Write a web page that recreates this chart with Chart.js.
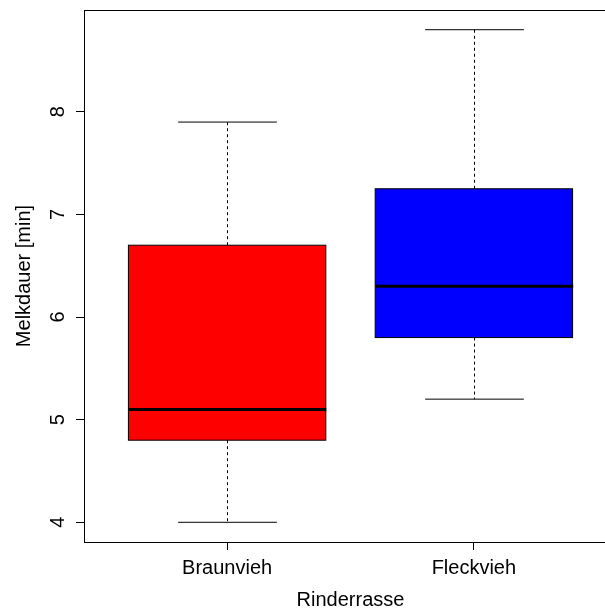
<!DOCTYPE html>
<html>
<head>
<meta charset="utf-8">
<script src="https://cdn.jsdelivr.net/npm/chart.js@4"></script>
<style>
  html, body { margin: 0; padding: 0; background: #fff; overflow: hidden; }
</style>
</head>
<body>
<canvas id="boxChart" width="660" height="609"></canvas>
<script>
'use strict';

// values
const breeds = ['Braunvieh', 'Fleckvieh'];
const whiskerLow = [4.0, 5.2];
const quartileLow = [4.8, 5.8];
const medians = [5.1, 6.3];
const quartileHigh = [6.7, 7.25];
const whiskerHigh = [7.9, 8.8];
const boxColors = ['#FF0000', '#0000FF'];
const yTicks = [4, 5, 6, 7, 8];

const FONT = '"Liberation Sans", Arial, Helvetica, sans-serif';

// whiskers, medians, frame and y-axis text (R style)
const boxExtras = {
  id: 'boxExtras',
  afterDatasetsDraw(chart) {
    const ctx = chart.ctx;
    const xs = chart.scales.x;
    const ys = chart.scales.y;
    const bars = chart.getDatasetMeta(0).data;
    const area = chart.chartArea;

    ctx.save();
    ctx.strokeStyle = '#000';
    for (let i = 0; i < breeds.length; i++) {
      const cx = Math.round(xs.getPixelForValue(i + 1)) + 0.5;
      const half = bars[i].width / 2;
      const capHalf = half / 2;
      const yLo = ys.getPixelForValue(whiskerLow[i]);
      const yQ1 = ys.getPixelForValue(quartileLow[i]);
      const yQ3 = ys.getPixelForValue(quartileHigh[i]);
      const yHi = ys.getPixelForValue(whiskerHigh[i]);
      const yMed = ys.getPixelForValue(medians[i]);

      // dashed whiskers
      ctx.lineWidth = 1;
      ctx.setLineDash([3, 3]);
      ctx.beginPath();
      ctx.moveTo(cx, yQ3);
      ctx.lineTo(cx, yHi);
      ctx.moveTo(cx, yQ1);
      ctx.lineTo(cx, yLo);
      ctx.stroke();
      ctx.setLineDash([]);

      // staples
      ctx.beginPath();
      ctx.moveTo(cx - capHalf, yHi);
      ctx.lineTo(cx + capHalf, yHi);
      ctx.moveTo(cx - capHalf, yLo);
      ctx.lineTo(cx + capHalf, yLo);
      ctx.stroke();

      // box outline, drawn again in solid black
      ctx.strokeRect(bars[i].x - half, yQ3, half * 2, yQ1 - yQ3);

      // median
      ctx.lineWidth = 3;
      ctx.beginPath();
      ctx.moveTo(cx - half, yMed);
      ctx.lineTo(cx + half, yMed);
      ctx.stroke();
    }

    // frame round the plot
    ctx.lineWidth = 1;
    ctx.strokeRect(Math.round(area.left) + 0.5, Math.round(area.top) + 0.5,
      Math.round(area.right - area.left), Math.round(area.bottom - area.top));

    // y tick labels, rotated like R
    ctx.fillStyle = '#000';
    ctx.font = '20px ' + FONT;
    ctx.textAlign = 'center';
    ctx.textBaseline = 'alphabetic';
    yTicks.forEach(v => {
      ctx.save();
      ctx.translate(64, ys.getPixelForValue(v));
      ctx.rotate(-Math.PI / 2);
      ctx.fillText(String(v), 0, 0);
      ctx.restore();
    });

    // y title
    ctx.save();
    ctx.translate(30, (area.top + area.bottom) / 2);
    ctx.rotate(-Math.PI / 2);
    ctx.fillText('Melkdauer [min]', 0, 0);
    ctx.restore();
    ctx.restore();
  }
};

let chartObject = {
  type: 'bar',
  data: {
    datasets: [{
      data: breeds.map((b, i) => ({ x: i + 1, y: [quartileLow[i], quartileHigh[i]] })),
      backgroundColor: boxColors,
      borderColor: '#000',
      borderWidth: 0,
      borderSkipped: false,
      barPercentage: 0.8,
      categoryPercentage: 1,
      grouped: false
    }]
  },
  options: {
    responsive: false,
    animation: false,
    devicePixelRatio: 1,
    layout: { padding: { top: 10, right: 43, left: 0, bottom: 0 } },
    plugins: {
      legend: { display: false },
      tooltip: { enabled: false }
    },
    scales: {
      x: {
        type: 'linear',
        offset: false,
        min: 0.42,
        max: 2.58,
        afterBuildTicks: s => { s.ticks = breeds.map((b, i) => ({ value: i + 1 })); },
        afterFit: s => { s.height = 67; },
        ticks: {
          callback: v => breeds[v - 1],
          color: '#000',
          font: { family: FONT, size: 20 },
          padding: 6,
          maxRotation: 0,
          autoSkip: false
        },
        grid: { offset: false, drawOnChartArea: false, drawTicks: true, tickLength: 8, color: '#000', tickColor: '#000' },
        border: { display: false },
        title: {
          display: true,
          text: 'Rinderrasse',
          color: '#000',
          font: { family: FONT, size: 20 },
          padding: { top: 0, bottom: -3 }
        }
      },
      y: {
        min: 3.808,
        max: 8.992,
        afterBuildTicks: s => { s.ticks = yTicks.map(v => ({ value: v })); },
        afterFit: s => { s.width = 84; },
        ticks: { display: false },
        grid: { drawOnChartArea: false, drawTicks: true, tickLength: 8, color: '#000', tickColor: '#000' },
        border: { display: false }
      }
    }
  },
  plugins: [boxExtras]
};

let ctx = document.getElementById('boxChart').getContext('2d');
let myChart = new Chart(ctx, chartObject);
</script>
</body>
</html>
